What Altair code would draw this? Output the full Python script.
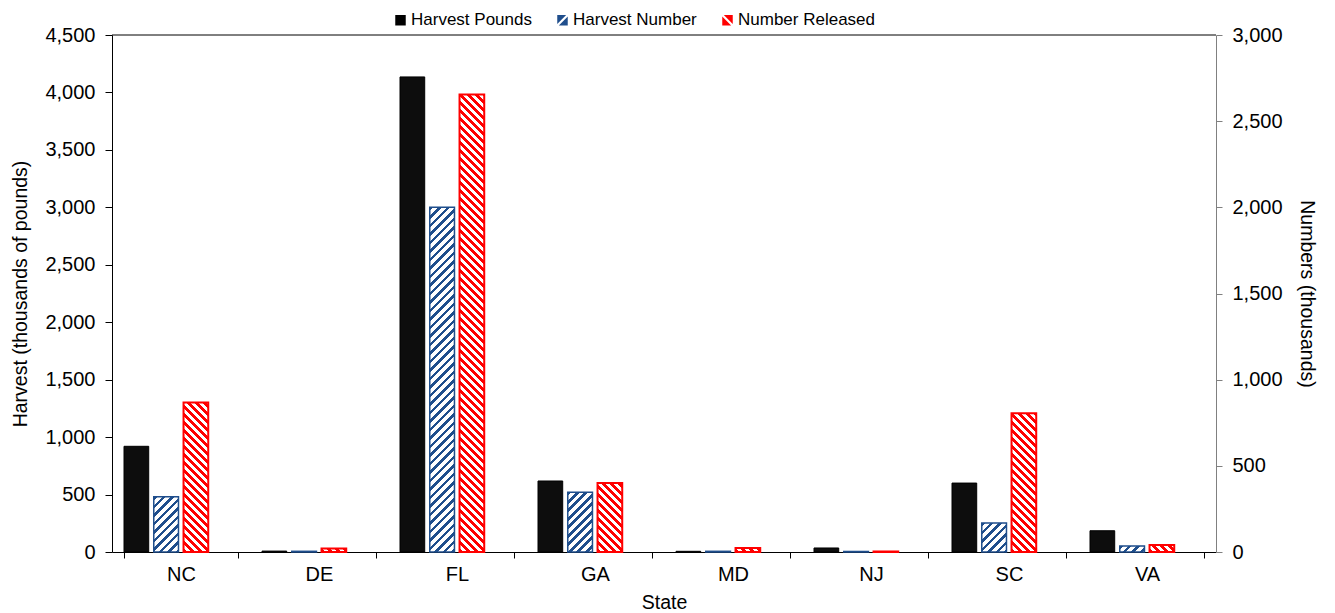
import altair as alt

# ---- data ----
states = ["NC", "DE", "FL", "GA", "MD", "NJ", "SC", "VA"]
harvest_pounds = [920, 8, 4135, 618, 6, 35, 600, 185]      # left axis (thousands of pounds)
harvest_number = [320, 4, 2000, 347, 4, 3, 168, 35]        # right axis (thousands)
number_released = [868, 21, 2655, 400, 23, 3, 805, 40]     # right axis (thousands)
series_names = ["Harvest Pounds", "Harvest Number", "Number Released"]
series_colors = ["#000000", "#1f4e8c", "#ff0000"]

# ---- layout / style constants ----
W, H = 1104, 517
LEFT_MAX, RIGHT_MAX = 4500, 3000
X_PAD_IN, X_PAD_OUT, OFF_PAD = 0.174, 0.087, 0.17
FONT = "Liberation Sans"

step = W / (len(states) - X_PAD_IN + 2 * X_PAD_OUT)
band = step * (1 - X_PAD_IN)
bar_w = band / (4 - OFF_PAD) * (1 - OFF_PAD)

# legend symbol shapes: plain square, square with "/" gap, square with "\" gap
legend_shapes = [
    "M-1,-1H1V1H-1Z",
    "M-1,-1L0.7,-1L-1,0.7Z M1,1L-0.7,1L1,-0.7Z",
    "M1,-1L-0.7,-1L1,0.7Z M-1,1L0.7,1L-1,-0.7Z",
]


def hatch(w, h, color, direction, period=8.0, duty=0.5):
    """Diagonal stripe fill built as a linear gradient with hard stops."""
    L = w + h
    k = L / (w * w + h * h)
    if direction == "/":
        g = {"gradient": "linear", "x1": 0, "y1": 0, "x2": k * w, "y2": k * h}
    else:
        g = {"gradient": "linear", "x1": 0, "y1": 1, "x2": k * w, "y2": 1 - k * h}
    stops = []
    pos = 0.0
    while pos < L:
        a = pos / L
        b = min((pos + period * duty) / L, 1)
        c = min((pos + period) / L, 1)
        stops += [
            {"offset": a, "color": color},
            {"offset": b, "color": color},
            {"offset": b, "color": "white"},
            {"offset": c, "color": "white"},
        ]
        pos += period
    g["stops"] = stops
    return g


rec_left = [
    {"state": s, "series": series_names[0], "value": v}
    for s, v in zip(states, harvest_pounds)
]
rec_right = []
for s, v in zip(states, harvest_number):
    h = v * H / RIGHT_MAX
    rec_right.append({"state": s, "series": series_names[1], "value": v, "col": series_colors[1],
                      "grad": hatch(bar_w, h, series_colors[1], "/", 8.5, 0.42), "sw": 1.5})
for s, v in zip(states, number_released):
    h = v * H / RIGHT_MAX
    rec_right.append({"state": s, "series": series_names[2], "value": v, "col": series_colors[2],
                      "grad": hatch(bar_w, h, series_colors[2], "\\", 8.0, 0.5), "sw": 2})
rec_legend = [{"state": states[0], "series": s} for s in series_names]

x_enc = alt.X(
    "state:N", sort=states,
    scale=alt.Scale(domain=states, paddingInner=X_PAD_IN, paddingOuter=X_PAD_OUT),
    axis=alt.Axis(title="State", labelAngle=0, tickBand="extent", tickSize=6,
                  domainColor="black", tickColor="black", labelPadding=6, titlePadding=9,
                  labelFontSize=20, titleFontSize=19.5),
)
xoff_enc = alt.XOffset(
    "series:N",
    scale=alt.Scale(domain=series_names + ["_pad"], paddingInner=OFF_PAD, paddingOuter=0),
)
legend_spec = alt.Legend(
    title=None, orient="none", legendX=280, legendY=-23.5, direction="horizontal",
    symbolSize=110, symbolOpacity=1, symbolStrokeWidth=0,
    labelFontSize=17, labelFont=FONT, labelColor="black",
    columnPadding=22, labelOffset=2, padding=0,
)

left = alt.Chart(alt.Data(values=rec_left)).mark_bar().encode(
    x=x_enc,
    xOffset=xoff_enc,
    y=alt.Y("value:Q", stack=None,
            scale=alt.Scale(domain=[0, LEFT_MAX], nice=False),
            axis=alt.Axis(orient="left", title="Harvest (thousands of pounds)",
                          values=list(range(0, LEFT_MAX + 1, 500)), format=",d",
                          tickSize=7, domainColor="black", tickColor="black",
                          labelPadding=10, titlePadding=14, grid=False,
                          labelFontSize=20, titleFontSize=19.5)),
    fill=alt.value("#0d0d0d"),
    stroke=alt.value("#000000"),
    strokeWidth=alt.value(1),
)

right = alt.Chart(alt.Data(values=rec_right)).mark_bar().encode(
    x=x_enc,
    xOffset=xoff_enc,
    y=alt.Y("value:Q", stack=None,
            scale=alt.Scale(domain=[0, RIGHT_MAX], nice=False),
            axis=alt.Axis(orient="right", title="Numbers (thousands)",
                          values=list(range(0, RIGHT_MAX + 1, 500)), format=",d",
                          tickSize=6, domainColor="#808080", tickColor="#808080",
                          labelPadding=10, titlePadding=14, grid=False,
                          labelFontSize=20, titleFontSize=19.5)),
    fill=alt.Fill("grad:N", scale=None),
    stroke=alt.Stroke("col:N", scale=None),
    strokeWidth=alt.StrokeWidth("sw:Q", scale=None),
)

legend_layer = alt.Chart(alt.Data(values=rec_legend)).mark_point(filled=True, opacity=0).encode(
    x=alt.X("state:N", sort=states),
    color=alt.Color("series:N", scale=alt.Scale(domain=series_names, range=series_colors),
                    legend=legend_spec),
    shape=alt.Shape("series:N", scale=alt.Scale(domain=series_names, range=legend_shapes),
                    legend=legend_spec),
)

top_border = alt.Chart(alt.Data(values=[{"k": 1}])).mark_rule(color="black", strokeWidth=1).encode(
    x=alt.value(0), x2=alt.value(W), y=alt.value(0)
)

chart = (
    alt.layer(left, right, legend_layer, top_border)
    .resolve_scale(y="independent")
    .properties(
        width=W, height=H,
        padding={"left": 104, "top": 27, "right": 111, "bottom": 62},
        autosize=alt.AutoSizeParams(type="none"),
        background="white",
    )
    .configure_view(stroke=None)
    .configure_axis(labelFont=FONT, titleFont=FONT, labelColor="black", titleColor="black",
                    titleFontWeight="normal", grid=False)
)

chart.save("out.html", embed_options={"renderer": "svg", "actions": False})
